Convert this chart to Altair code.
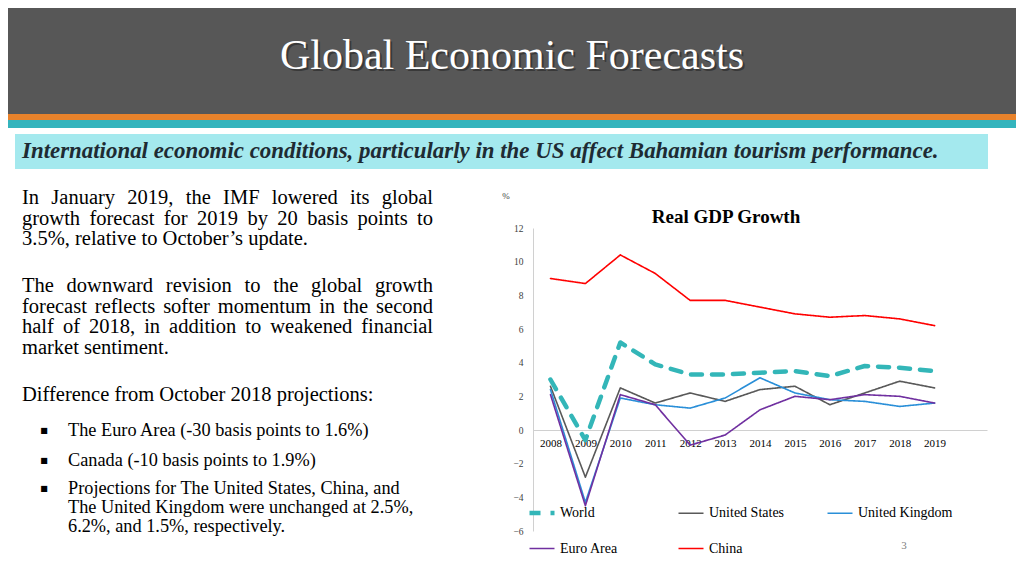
import altair as alt
import pandas as pd

# ---------------- data ----------------
years = list(range(2008, 2020))
series_names = ["World", "United States", "United Kingdom", "Euro Area", "China"]
world = [3.0, -0.6, 5.2, 3.9, 3.3, 3.3, 3.4, 3.5, 3.2, 3.8, 3.7, 3.5]
united_states = [2.6, -2.8, 2.5, 1.6, 2.2, 1.7, 2.4, 2.6, 1.5, 2.2, 2.9, 2.5]
united_kingdom = [2.4, -4.3, 1.9, 1.5, 1.3, 1.9, 3.1, 2.2, 1.8, 1.7, 1.4, 1.6]
euro_area = [2.1, -4.5, 2.1, 1.5, -0.9, -0.3, 1.2, 2.0, 1.8, 2.1, 2.0, 1.6]
china = [9.0, 8.7, 10.4, 9.3, 7.7, 7.7, 7.3, 6.9, 6.7, 6.8, 6.6, 6.2]
y_ticks = [-6, -4, -2, 0, 2, 4, 6, 8, 10, 12]

slide_title = "Global Economic Forecasts"
subtitle = "International economic conditions, particularly in the US affect Bahamian tourism performance."
para1 = ["In January 2019, the IMF lowered its global",
         "growth forecast for 2019 by 20 basis points to",
         "3.5%, relative to October\u2019s update."]
para2 = ["The downward revision to the global growth",
         "forecast reflects softer momentum in the second",
         "half of 2018, in addition to weakened financial",
         "market sentiment."]
para3 = "Difference from October 2018 projections:"
bullets = [["The Euro Area (-30 basis points to 1.6%)"],
           ["Canada (-10 basis points to 1.9%)"],
           ["Projections for The United States, China, and",
            "The United Kingdom were unchanged at 2.5%,",
            "6.2%, and 1.5%, respectively."]]
chart_title = "Real GDP Growth"
unit_label = "%"
page_number = "3"

values = [world, united_states, united_kingdom, euro_area, china]
rows = []
for name, vals in zip(series_names, values):
    for yr, v in zip(years, vals):
        rows.append({"year": yr, "series": name, "value": v})
df = pd.DataFrame(rows)
one = pd.DataFrame({"k": [0]})

colors = ["#33B6B8", "#595959", "#2A8FD8", "#7030A0", "#FF0000"]
dashes = [[11, 10], [1, 0], [1, 0], [1, 0], [1, 0]]
widths = [4.5, 1.6, 1.6, 1.6, 1.6]

# ---------------- geometry (page px) ----------------
OX, OY = 533, 228          # plot origin on the page
W, H = 454, 303            # plot size
SERIF = "Liberation Serif"

# approximate Times advance widths (per 1000 em) for justification
TW = dict(zip("abcdefghijklmnopqrstuvwxyz",
              [444, 500, 444, 500, 444, 333, 500, 500, 278, 278, 500, 278, 778,
               500, 500, 500, 500, 333, 389, 278, 500, 500, 722, 500, 500, 444]))
TW.update({"I": 333, "J": 389, "M": 889, "F": 556, "T": 611, ",": 250, ".": 250,
           "%": 833, "\u2019": 333, " ": 250})
for d in "0123456789":
    TW[d] = 500


def word_w(w, size):
    return sum(TW.get(c, 500) for c in w) * size / 1000.0


def px(x):
    return x - OX


def py(y):
    return y - OY


def rect(x1, y1, x2, y2, color):
    return alt.Chart(one).mark_rect(color=color).encode(
        x=alt.value(px(x1)), x2=alt.value(px(x2)),
        y=alt.value(py(y1)), y2=alt.value(py(y2)))


def txt(s, x, y, size, color="#000000", align="left", weight="normal", style="normal",
        font=SERIF, opacity=1.0):
    return alt.Chart(one).mark_text(
        text=s, align=align, baseline="middle", fontSize=size, font=font,
        fontWeight=weight, fontStyle=style, color=color, opacity=opacity).encode(
        x=alt.value(px(x)), y=alt.value(py(y)))


def justified(s, x0, x1, y, size):
    words = s.split(" ")
    ws = [word_w(w, size) for w in words]
    gap = (x1 - x0 - sum(ws)) / (len(words) - 1)
    out = []
    x = x0
    for w, ww in zip(words, ws):
        out.append(txt(w, x, y, size))
        x += ww + gap
    return out


layers = []
# header band and stripes
layers.append(rect(0, 0, 1024, 114, "#575757"))
layers.append(rect(0, 114, 1024, 120, "#E8822B"))
layers.append(rect(0, 120, 1024, 128, "#34B4BD"))
layers.append(rect(15, 134, 988, 169, "#A4E9EE"))
layers.append(txt(slide_title, 514, 58, 42, color="#222222", align="center", opacity=0.55))
layers.append(txt(slide_title, 512, 56, 42, color="#FFFFFF", align="center"))
layers.append(txt(subtitle, 22, 151, 22.9, color="#1E2B33", weight="bold", style="italic"))

# body text
BODY = 20.5
line_y1 = [198, 218.5, 239]
for i, (s, yy) in enumerate(zip(para1, line_y1)):
    if i < len(para1) - 1:
        layers += justified(s, 22, 433, yy, BODY)
    else:
        layers.append(txt(s, 22, yy, BODY))
line_y2 = [286, 306.5, 327, 347.5]
for i, (s, yy) in enumerate(zip(para2, line_y2)):
    if i < len(para2) - 1:
        layers += justified(s, 22, 433, yy, BODY)
    else:
        layers.append(txt(s, 22, yy, BODY))
layers.append(txt(para3, 22, 395, BODY))
bullet_y = [[431], [461], [489, 508, 526.5]]
for lines_, ys in zip(bullets, bullet_y):
    layers.append(txt("\u25A0", 44, ys[0], 8, font="DejaVu Sans", align="center"))
    for s, yy in zip(lines_, ys):
        layers.append(txt(s, 68, yy, 18.3))

# chart labels
layers.append(txt(unit_label, 506, 196, 9, color="#404040", align="center"))
layers.append(txt(chart_title, 726, 217, 19, weight="bold", align="center"))
layers.append(txt(page_number, 904, 546, 11, color="#808080", align="center"))

# ---------------- data lines ----------------
lines = alt.Chart(df).mark_line(strokeCap="round", strokeJoin="round").encode(
    x=alt.X("year:Q", scale=alt.Scale(domain=[2007.5, 2020.5], nice=False, zero=False),
            axis=alt.Axis(values=years, format="d", title=None, ticks=False, grid=False,
                          domainColor="#D0D0D0", domainWidth=1, offset=-101,
                          labelFont=SERIF, labelFontSize=11, labelColor="#000000",
                          labelPadding=7)),
    y=alt.Y("value:Q", scale=alt.Scale(domain=[-6, 12], nice=False, zero=False),
            axis=alt.Axis(values=y_ticks, title=None, ticks=False, grid=False,
                          domainColor="#D0D0D0", domainWidth=1,
                          labelFont=SERIF, labelFontSize=9.5, labelColor="#404040",
                          labelPadding=10)),
    color=alt.Color("series:N", scale=alt.Scale(domain=series_names, range=colors),
                    legend=alt.Legend(title=None, orient="none", legendX=-6, legendY=270,
                                      direction="horizontal",
                                      columns=3, gridAlign="all", columnPadding=20,
                                      rowPadding=13, symbolType="stroke", symbolSize=625,
                                      labelFont=SERIF, labelFontSize=14,
                                      labelColor="#000000", labelOffset=3)),
    strokeDash=alt.StrokeDash("series:N", scale=alt.Scale(domain=series_names, range=dashes),
                              legend=None),
    strokeWidth=alt.StrokeWidth("series:N",
                                scale=alt.Scale(type="ordinal", domain=series_names, range=widths),
                                legend=None),
    order=alt.Order("year:Q"),
)
layers.append(lines)

chart = alt.layer(*layers).properties(
    width=W, height=H,
    autosize=alt.AutoSizeParams(type="none"),
    padding={"left": OX - 8, "top": OY - 8, "right": 1008 - (OX - 8) - W,
             "bottom": 560 - (OY - 8) - H},
    background="#FFFFFF",
).configure_view(stroke=None)

chart.save("out.html", embed_options={"renderer": "svg", "actions": False})
